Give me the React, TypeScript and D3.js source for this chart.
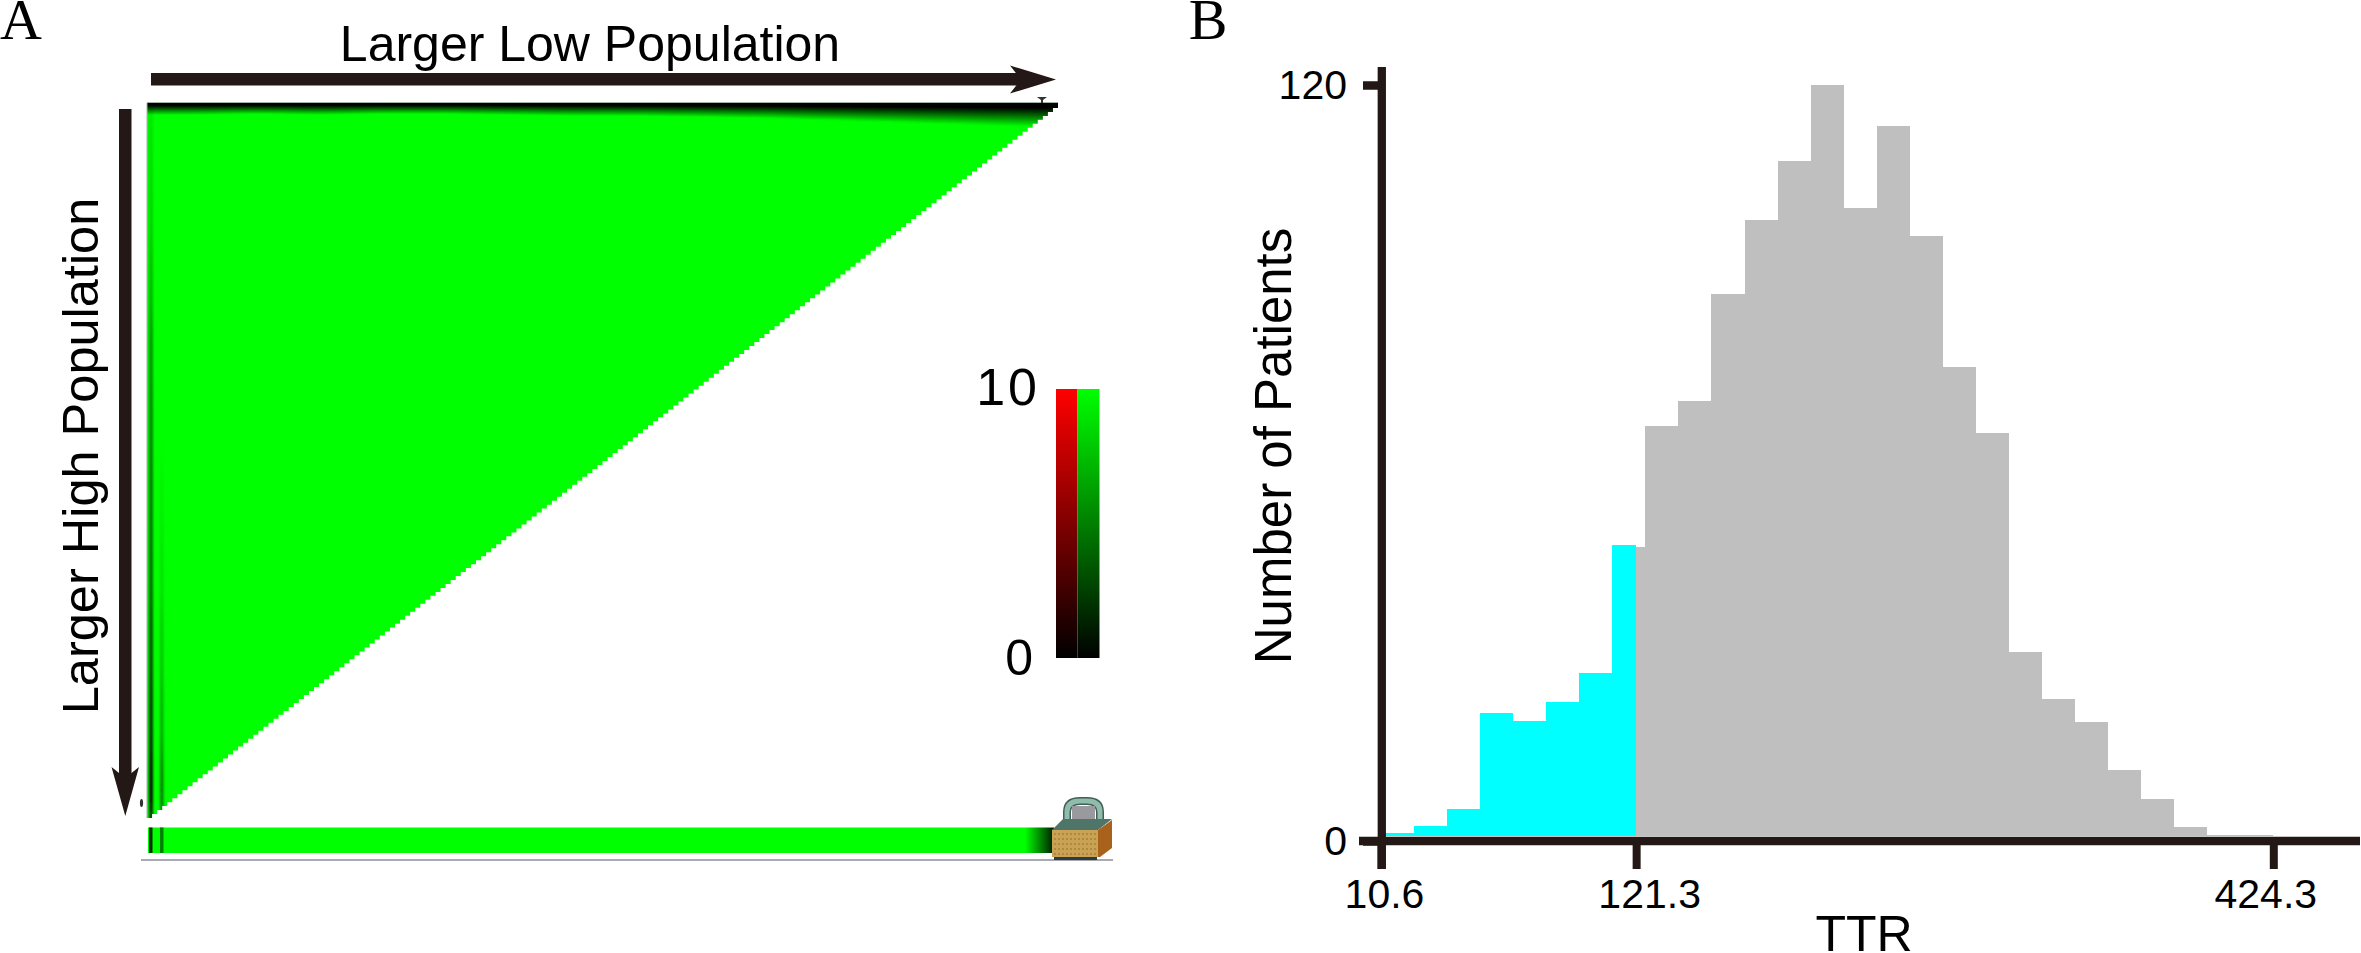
import React, { useEffect, useRef } from "react";
import * as d3 from "d3";

// Panel B: histogram, patients per TTR bin (cyan = below the 121.3 cutoff)
const cyanCounts = [1.2, 2.4, 5.1, 20.3, 19.1, 22, 26.6, 47];
const grayCounts = [
    46.6, 65.9, 69.8, 86.8, 98.5, 107.9, 120, 100.4, 113.5, 96.1, 75.2, 64.7, 30, 22.5, 18.9, 11.3,
    6.7, 2.2, 1, 1,
];
const cutoffBin = 7.72;
const binCount = 27;
const xTickBins = [0, cutoffBin, binCount];
const xTickLabels = ["10.6", "121.3", "424.3"];
const yTicks = [0, 120];

// Panel A: heat map of the low / high population cutoffs
const gridSize = 180;
const topBandDepth = [12, 12, 11, 12, 11, 11, 12, 13, 13, 14, 15, 17, 19, 21, 23, 25];
const leftInnerStrip = [0.1, 0.15, 0.25, 0.4, 0.45, 0.5, 0.55, 0.65, 0.75, 0.9];
const leftOuterStrip = [0, 0, 0, 0, 0, 0.05, 0.1, 0.2, 0.3, 0.5];
const legendTicks = [0, 10];

const INK = "#231815";
const FONT = "'Liberation Sans', Arial, sans-serif";

const App: React.FC = () => {
    const svgRef = useRef<SVGSVGElement | null>(null);

    useEffect(() => {
        if (!svgRef.current) return;
        const svg = d3.select(svgRef.current);
        svg.selectAll("*").remove();

        const defs = svg.append("defs");
        svg.append("rect").attr("width", 2361).attr("height", 953).attr("fill", "#fff");

        // ---------- Panel A ----------
        const cellX = d3.scaleLinear().domain([0, gridSize]).range([147, 1058]);
        const cellY = d3.scaleLinear().domain([0, gridSize]).range([818, 104]);
        const top = 103;

        const triangle = d3
            .area<number>()
            .x((d) => cellX(d))
            .y0(top)
            .y1((d) => cellY(d))
            .curve(d3.curveStepAfter);
        const triPath = triangle(d3.range(gridSize + 1)) ?? "";

        defs.append("clipPath").attr("id", "tri").append("path").attr("d", triPath);

        const fade = defs.append("linearGradient").attr("id", "topFade").attr("x2", 0).attr("y2", 1);
        fade.append("stop").attr("offset", 0.2).attr("stop-color", "#000");
        fade.append("stop").attr("offset", 1).attr("stop-color", "#000").attr("stop-opacity", 0);

        const blurX = defs.append("filter").attr("id", "blurX").attr("x", "-10%").attr("width", "120%");
        blurX.append("feGaussianBlur").attr("stdDeviation", "22 0");
        const blurY = defs
            .append("filter")
            .attr("id", "blurY")
            .attr("x", "-50%")
            .attr("width", "200%")
            .attr("y", "-10%")
            .attr("height", "120%");
        blurY.append("feGaussianBlur").attr("stdDeviation", "1 18");

        svg.append("path").attr("d", triPath).attr("fill", "#00ff00");

        const heat = svg.append("g").attr("clip-path", "url(#tri)");
        const bandX = d3
            .scaleBand<number>()
            .domain(d3.range(topBandDepth.length))
            .range([100, 1100]);
        heat.append("g")
            .attr("filter", "url(#blurX)")
            .selectAll("rect")
            .data(topBandDepth)
            .enter()
            .append("rect")
            .attr("x", (_, i) => bandX(i) ?? 0)
            .attr("y", top)
            .attr("width", bandX.bandwidth() + 1)
            .attr("height", (d) => d)
            .attr("fill", "url(#topFade)");

        const rowY = d3
            .scaleBand<number>()
            .domain(d3.range(leftInnerStrip.length))
            .range([103, 830]);
        const strips: [number[], number, number][] = [
            [leftInnerStrip, 149, 4],
            [leftOuterStrip, 160, 3.5],
        ];
        strips.forEach(([values, x0, w]) => {
            heat.append("g")
                .attr("filter", "url(#blurY)")
                .selectAll("rect")
                .data(values)
                .enter()
                .append("rect")
                .attr("x", x0)
                .attr("y", (_, i) => rowY(i) ?? 0)
                .attr("width", w)
                .attr("height", rowY.bandwidth() + 1)
                .attr("fill", "#000")
                .attr("opacity", (d) => d);
        });

        // thin grey edge of the map
        svg.append("line")
            .attr("x1", 147)
            .attr("x2", 1058)
            .attr("y1", 102.5)
            .attr("y2", 102.5)
            .attr("stroke", "#9fb5a5")
            .attr("stroke-width", 1);
        svg.append("line")
            .attr("x1", 147)
            .attr("x2", 147)
            .attr("y1", 103)
            .attr("y2", 818)
            .attr("stroke", "#9fb5a5")
            .attr("stroke-width", 1);

        // small marks left over from the software screenshot
        svg.append("path")
            .attr("d", "M1037,97 L1047,97 L1043,100 L1043,103 L1041,103 L1041,100 Z")
            .attr("fill", "#333");
        svg.append("ellipse")
            .attr("cx", 141.5)
            .attr("cy", 803)
            .attr("rx", 1.6)
            .attr("ry", 4)
            .attr("fill", "#333");

        // bottom strip
        const stripFade = defs.append("linearGradient").attr("id", "stripFade");
        stripFade.append("stop").attr("offset", 0.968).attr("stop-color", "#00ff00");
        stripFade.append("stop").attr("offset", 1).attr("stop-color", "#001a00");
        svg.append("rect")
            .attr("x", 148)
            .attr("y", 827.5)
            .attr("width", 906)
            .attr("height", 25.5)
            .attr("fill", "url(#stripFade)");
        svg.append("rect").attr("x", 149).attr("y", 827.5).attr("width", 3.5).attr("height", 25.5).attr("fill", "#003000");
        svg.append("rect").attr("x", 160).attr("y", 827.5).attr("width", 3.5).attr("height", 25.5).attr("fill", "#008000");
        svg.append("line")
            .attr("x1", 141)
            .attr("x2", 1113)
            .attr("y1", 860)
            .attr("y2", 860)
            .attr("stroke", "#8b8f9b")
            .attr("stroke-width", 1.5);

        // lock icon
        const lock = svg.append("g");
        const shackle = "M1067,824 L1067,812 Q1067,801 1080,801 L1087,801 Q1100,801 1100,812 L1100,824";
        lock.append("path")
            .attr("d", shackle)
            .attr("fill", "none")
            .attr("stroke", "#3f5f58")
            .attr("stroke-width", 8);
        lock.append("path")
            .attr("d", shackle)
            .attr("fill", "none")
            .attr("stroke", "#8fbcab")
            .attr("stroke-width", 5);
        lock.append("rect").attr("x", 1072).attr("y", 806).attr("width", 23).attr("height", 18).attr("fill", "#9a9a9e");
        lock.append("path").attr("d", "M1052,830 L1063,819 L1112,819 L1098,830 Z").attr("fill", "#4f7468");
        lock.append("path").attr("d", "M1098,830 L1112,820 L1112,848 L1100,857 L1098,857 Z").attr("fill", "#a8621c");
        lock.append("rect").attr("x", 1052).attr("y", 830).attr("width", 46).attr("height", 27).attr("fill", "#c9a253");
        lock.append("rect").attr("x", 1054).attr("y", 857).attr("width", 43).attr("height", 3).attr("fill", "#2c3c42");
        const dotCols = d3.range(1055, 1097, 4);
        const dotRows = d3.range(834, 856, 5);
        lock.selectAll("circle")
            .data(dotRows.flatMap((r) => dotCols.map((c) => [c, r])))
            .enter()
            .append("circle")
            .attr("cx", (d) => d[0])
            .attr("cy", (d) => d[1])
            .attr("r", 0.8)
            .attr("fill", "#8a6a2c");

        // arrows
        svg.append("rect").attr("x", 151).attr("y", 73).attr("width", 870).attr("height", 12.5).attr("fill", INK);
        svg.append("path").attr("d", "M1056,79.5 L1010,65.5 L1021,79.5 L1010,93.5 Z").attr("fill", INK);
        svg.append("rect").attr("x", 119).attr("y", 109).attr("width", 12.5).attr("height", 670).attr("fill", INK);
        svg.append("path").attr("d", "M125.3,816 L111.5,767 L125.3,778 L139,767 Z").attr("fill", INK);

        // legend
        const legendY = d3.scaleLinear().domain(legendTicks).range([658, 389]);
        const legendCols: [string, number, number][] = [
            ["#ff0000", 1056, 21.5],
            ["#00ff00", 1077.5, 22],
        ];
        legendCols.forEach(([hue, x0, w], i) => {
            const shade = d3.scaleLinear<string>().domain(legendTicks).range(["#000000", hue]);
            const g = defs
                .append("linearGradient")
                .attr("id", `legend${i}`)
                .attr("x2", 0)
                .attr("y1", 1)
                .attr("y2", 0);
            legendTicks.forEach((t) => {
                g.append("stop").attr("offset", t / 10).attr("stop-color", shade(t));
            });
            svg.append("rect")
                .attr("x", x0)
                .attr("y", legendY(10))
                .attr("width", w)
                .attr("height", legendY(0) - legendY(10))
                .attr("fill", `url(#legend${i})`);
        });
        svg.selectAll(".legend-label")
            .data(legendTicks)
            .enter()
            .append("text")
            .attr("class", "legend-label")
            .attr("x", (d) => (d === 10 ? 1040 : 1033))
            .attr("y", (d) => (d === 10 ? 405 : 675))
            .attr("text-anchor", "end")
            .attr("font-family", FONT)
            .attr("font-size", (d) => (d === 10 ? 52 : 50))
            .attr("letter-spacing", (d) => (d === 10 ? 3 : 0))
            .attr("fill", "#000")
            .text((d) => d);

        const addText = (
            label: string,
            x: number,
            y: number,
            size: number,
            opts: { rotate?: boolean; family?: string } = {}
        ) =>
            svg
                .append("text")
                .attr("transform", `translate(${x},${y})${opts.rotate ? " rotate(-90)" : ""}`)
                .attr("text-anchor", "middle")
                .attr("font-family", opts.family ?? FONT)
                .attr("font-size", size)
                .attr("fill", "#000")
                .text(label);

        addText("Larger Low Population", 590, 61, 50);
        addText("Larger High Population", 98, 456, 50.5, { rotate: true });
        addText("A", 21, 39, 58, { family: "'Liberation Serif', serif" });
        addText("B", 1208, 39, 58, { family: "'Liberation Serif', serif" });

        // ---------- Panel B ----------
        const x = d3.scaleLinear().domain([0, binCount]).range([1381, 2273.3]);
        const y = d3.scaleLinear().domain([0, 120]).range([841, 85]);
        const barBottom = y(0) - 5;

        svg.append("g")
            .attr("shape-rendering", "crispEdges")
            .selectAll("rect")
            .data(cyanCounts)
            .enter()
            .append("rect")
            .attr("x", (_, i) => x(i))
            .attr("y", (d) => y(d))
            .attr("width", (_, i) => x(Math.min(i + 1, cutoffBin)) - x(i))
            .attr("height", (d) => barBottom - y(d))
            .attr("fill", "#00ffff");

        svg.append("g")
            .attr("shape-rendering", "crispEdges")
            .selectAll("rect")
            .data(grayCounts)
            .enter()
            .append("rect")
            .attr("x", (_, i) => (i === 0 ? x(cutoffBin) : x(i + 7)))
            .attr("y", (d) => y(d))
            .attr("width", (_, i) => (i === 0 ? x(8) - x(cutoffBin) : x(i + 8) - x(i + 7)))
            .attr("height", (d) => barBottom - y(d))
            .attr("fill", "#bfbfbf");

        const yAxis = svg
            .append("g")
            .attr("transform", "translate(1378,0)")
            .call(d3.axisLeft(y).tickValues(yTicks).tickSize(15).tickPadding(16));
        yAxis.select(".domain").remove();
        yAxis.selectAll("line").attr("stroke", INK).attr("stroke-width", 8.5);
        yAxis.selectAll("text").attr("font-family", FONT).attr("font-size", 41).attr("fill", "#000");

        const labelShift = [3, 13, -8];
        const xAxis = svg
            .append("g")
            .attr("transform", "translate(0,845)")
            .call(
                d3
                    .axisBottom(x)
                    .tickValues(xTickBins)
                    .tickFormat((_, i) => xTickLabels[i])
                    .tickSize(24)
                    .tickPadding(10)
            );
        xAxis.select(".domain").remove();
        xAxis.selectAll("line").attr("stroke", INK).attr("stroke-width", 8);
        xAxis
            .selectAll("text")
            .attr("dx", (_, i) => labelShift[i])
            .attr("font-family", FONT)
            .attr("font-size", 41)
            .attr("fill", "#000");

        // spines
        svg.append("line")
            .attr("x1", 1381.8)
            .attr("x2", 1381.8)
            .attr("y1", 67)
            .attr("y2", 869)
            .attr("stroke", INK)
            .attr("stroke-width", 8.3);
        svg.append("line")
            .attr("x1", 1359)
            .attr("x2", 2360)
            .attr("y1", 841)
            .attr("y2", 841)
            .attr("stroke", INK)
            .attr("stroke-width", 8.5);

        addText("Number of Patients", 1291, 446, 51, { rotate: true });
        addText("TTR", 1864, 951, 50);
    }, []);

    return (
        <svg
            ref={svgRef}
            width={2361}
            height={953}
            style={{ position: "absolute", left: 0, top: 0, display: "block" }}
        ></svg>
    );
};

export default App;
